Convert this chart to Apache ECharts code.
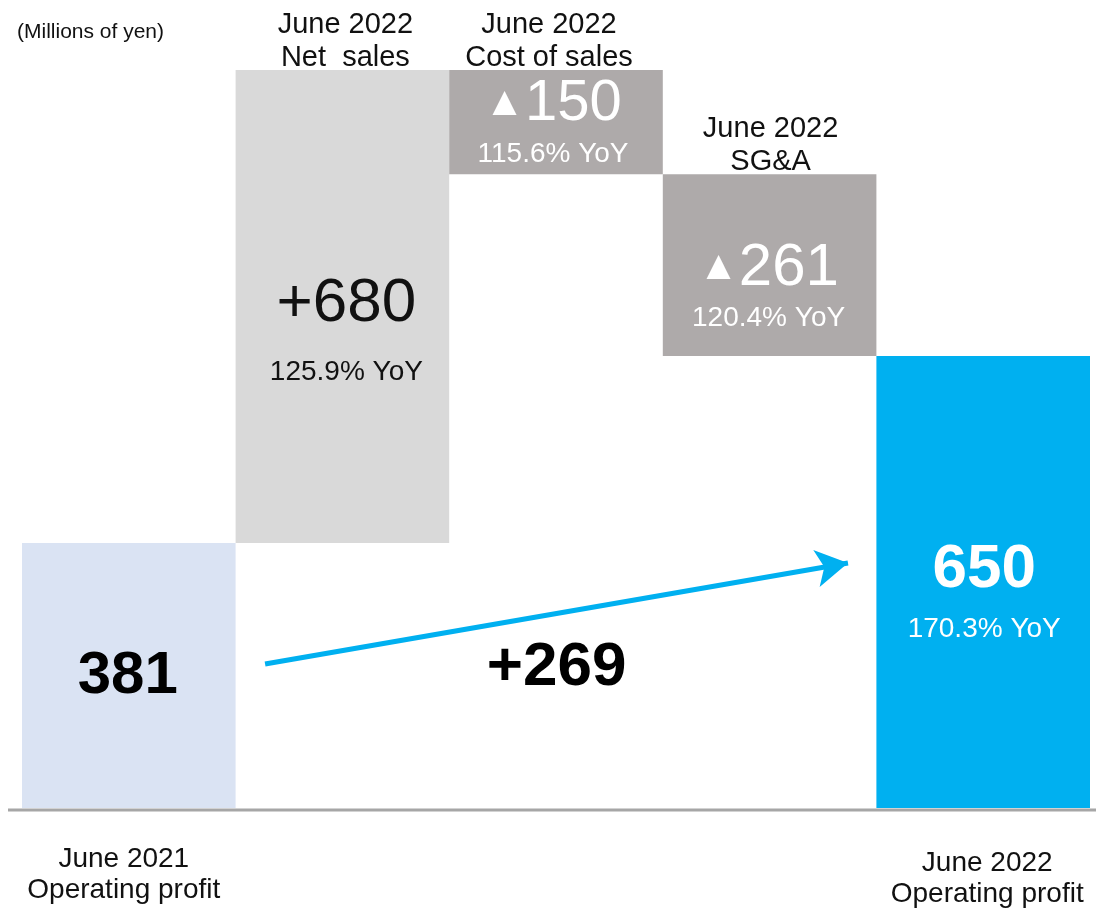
<!DOCTYPE html>
<html>
<head>
<meta charset="utf-8">
<script src="https://cdn.jsdelivr.net/npm/echarts@6/dist/echarts.min.js"></script>
<style>
  html, body { margin: 0; padding: 0; background: #fff; }
  #chart { width: 1096px; height: 908px; }
</style>
</head>
<body>
<div id="chart"></div>
<script>
// Operating profit bridge: June 2021 -> June 2022 (millions of yen)
const categories = [
  'June 2021\nOperating profit',
  'June 2022\nNet  sales',
  'June 2022\nCost of sales',
  'June 2022\nSG&A',
  'June 2022\nOperating profit'
];
// first and last entries are totals, the rest are changes (negative = decrease)
const amounts = [381, 680, -150, -261, 650];
const yoyPercent = [null, 125.9, 115.6, 120.4, 170.3];

const FONT = '"Liberation Sans", Arial, sans-serif';
const barColors = ['#dae3f3', '#d9d9d9', '#aeaaaa', '#aeaaaa', '#00b0f0'];

// waterfall geometry: invisible base + visible segment
const baseVals = [];
const segVals = [];
let running = 0;
amounts.forEach((v, i) => {
  if (i === 0 || i === amounts.length - 1) {
    baseVals.push(0);
    segVals.push(Math.abs(v));
    running = v;
  } else if (v >= 0) {
    baseVals.push(running);
    segVals.push(v);
    running += v;
  } else {
    running += v;
    baseVals.push(running);
    segVals.push(-v);
  }
});
const tops = baseVals.map((b, i) => b + segVals[i]);
const yMax = Math.max(...tops);
const last = amounts.length - 1;

// rich-text amount: totals plain, increases with "+", decreases with a triangle
function amountText(i) {
  const v = amounts[i];
  if (i === 0 || i === last) return '{v|' + v + '}';
  return v >= 0 ? '{v|+' + v + '}' : '{tri|▲}{v|' + (-v) + '}';
}
function yoyText(i) {
  return yoyPercent[i] == null ? '' : yoyPercent[i].toFixed(1) + '% YoY';
}

// label styling for each column
const labelStyles = [
  { offset: [-1, 1], color: '#000', big: 60, bold: true, yoy: false, lh: [70, 40] },
  { offset: [4, 30], color: '#111', big: 62, bold: false, yoy: true, lh: [72, 66] },
  { offset: [-3, 4], color: '#fff', big: 58, bold: false, yoy: true, lh: [56, 44] },
  { offset: [-1, 25], color: '#fff', big: 60, bold: false, yoy: true, lh: [56, 44] },
  { offset: [1, 12], color: '#fff', big: 62, bold: true, yoy: true, lh: [70, 48] }
];

const segData = segVals.map((v, i) => {
  const s = labelStyles[i];
  return {
    value: v,
    itemStyle: { color: barColors[i] },
    label: {
      show: true,
      position: 'inside',
      offset: s.offset,
      formatter: () => amountText(i) + (s.yoy ? '\n{y|' + yoyText(i) + '}' : ''),
      rich: {
        v: { fontFamily: FONT, fontSize: s.big, fontWeight: s.bold ? 'bold' : 'normal', color: s.color, lineHeight: s.lh[0] },
        tri: { fontFamily: FONT, fontSize: 41, color: s.color, lineHeight: s.lh[0] },
        y: { fontFamily: FONT, fontSize: 28, color: s.color, lineHeight: s.lh[1] }
      }
    }
  };
});

// headings above the change columns sit at each column's upper edge
const headingOffsets = [null, [3, 0], [-7, 0], [1, 0], null];
const headingData = tops.map((t, i) => (i === 0 || i === last) ? null : {
  value: [i, t],
  label: { offset: headingOffsets[i] }
});

const arrowFrom = [1.138, 207];
const arrowTo = [3.867, 352.2];

const chart = echarts.init(document.getElementById('chart'), null, { renderer: 'canvas' });
chart.setOption({
  animation: false,
  backgroundColor: '#ffffff',
  title: {
    text: '(Millions of yen)',
    left: 12,
    top: 17,
    textStyle: { fontFamily: FONT, fontSize: 21, fontWeight: 'normal', color: '#111' }
  },
  grid: { left: 22, right: 6, top: 70, bottom: 100, containLabel: false, outerBoundsMode: 'none' },
  xAxis: [
    {
      type: 'category',
      data: categories,
      boundaryGap: true,
      axisLine: { show: false },
      axisTick: { show: false },
      axisLabel: {
        interval: (idx) => idx === 0 || idx === last,
        margin: 36,
        formatter: (val, idx) => {
          const lines = val.split('\n');
          if (idx === last) {
            return '{gap| }\n' + lines.map((l) => '{r|' + l + '}').join('\n');
          }
          return lines.map((l) => '{l|' + l + '}').join('\n');
        },
        rich: {
          l: { fontFamily: FONT, fontSize: 28, lineHeight: 31, color: '#111', padding: [0, 10, 0, 0] },
          r: { fontFamily: FONT, fontSize: 28, lineHeight: 31, color: '#111', padding: [0, 0, 0, 8] },
          gap: { fontSize: 2, lineHeight: 4 }
        }
      }
    },
    { type: 'value', min: 0, max: categories.length, show: false }
  ],
  yAxis: {
    type: 'value',
    min: 0,
    max: yMax,
    show: false,
    splitLine: { show: false }
  },
  graphic: [
    {
      type: 'line',
      shape: { x1: 8, y1: 810, x2: 1096, y2: 810 },
      style: { stroke: '#a6a6a6', lineWidth: 3 },
      z: 10
    }
  ],
  series: [
    {
      type: 'bar',
      stack: 'bridge',
      data: baseVals,
      barCategoryGap: '0%',
      itemStyle: { color: 'transparent' },
      silent: true
    },
    {
      type: 'bar',
      stack: 'bridge',
      data: segData,
      barCategoryGap: '0%',
      silent: true
    },
    {
      type: 'scatter',
      data: headingData,
      symbolSize: 0,
      itemStyle: { color: 'transparent', opacity: 1 },
      silent: true,
      label: {
        show: true,
        position: 'top',
        distance: -4,
        formatter: (p) => categories[p.dataIndex],
        fontFamily: FONT,
        fontSize: 29,
        lineHeight: 33,
        color: '#111'
      }
    },
    {
      type: 'scatter',
      xAxisIndex: 1,
      data: [[(arrowFrom[0] + arrowTo[0]) / 2, (arrowFrom[1] + arrowTo[1]) / 2]],
      symbolSize: 0,
      itemStyle: { color: 'transparent', opacity: 1 },
      silent: true,
      label: {
        show: true,
        position: 'inside',
        offset: [0, 54],
        formatter: () => '+' + (amounts[last] - amounts[0]),
        fontFamily: FONT,
        fontSize: 62,
        fontWeight: 'bold',
        color: '#000'
      },
      markLine: {
        silent: true,
        symbol: ['none', 'arrow'],
        symbolSize: [28, 32],
        label: { show: false },
        lineStyle: { color: '#00b0f0', width: 5, type: 'solid' },
        itemStyle: { color: '#00b0f0' },
        data: [[{ coord: arrowFrom }, { coord: arrowTo }]]
      }
    }
  ]
});
</script>
</body>
</html>
